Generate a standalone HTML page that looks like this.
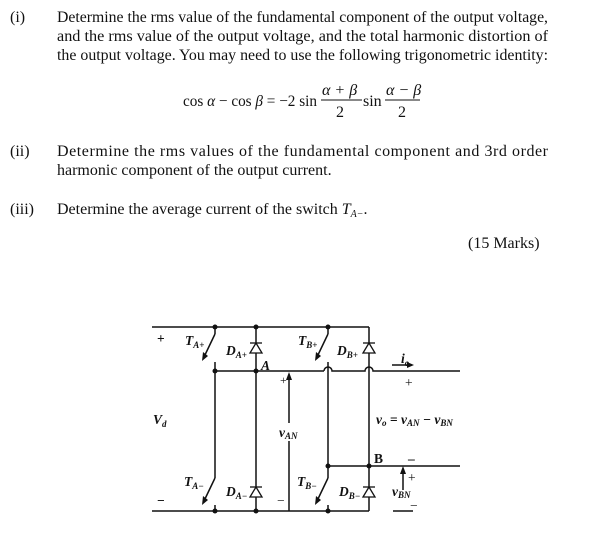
<!DOCTYPE html>
<html><head><style>body{margin:0;background:#fff}svg{display:block}text{font-family:"Liberation Serif",serif;fill:#111}</style></head><body>
<svg width="604" height="541" viewBox="0 0 604 541" xmlns="http://www.w3.org/2000/svg">
<g font-size="16">
<text x="10" y="22">(i)</text>
<text x="57" y="22" textLength="491" lengthAdjust="spacingAndGlyphs">Determine the rms value of the fundamental component of the output voltage,</text>
<text x="57" y="41" textLength="491" lengthAdjust="spacingAndGlyphs">and the rms value of the output voltage, and the total harmonic distortion of</text>
<text x="57" y="60" textLength="491" lengthAdjust="spacingAndGlyphs">the output voltage. You may need to use the following trigonometric identity:</text>
<text x="10" y="156">(ii)</text>
<text x="57" y="156" textLength="491" lengthAdjust="spacing">Determine the rms values of the fundamental component and 3rd order</text>
<text x="57" y="175">harmonic component of the output current.</text>
<text x="10" y="214">(iii)</text>
<text x="57" y="214">Determine the average current of the switch <tspan font-style="italic">T</tspan><tspan font-style="italic" font-size="10" dy="3">A−</tspan><tspan dy="-3">.</tspan></text>
<text x="468" y="248">(15 Marks)</text>
</g>
<g font-size="16">
<text x="183" y="106" textLength="134" lengthAdjust="spacingAndGlyphs">cos <tspan font-style="italic">α</tspan> − cos <tspan font-style="italic">β</tspan> = −2 sin</text>
<text x="322" y="95" font-style="italic">α + β</text>
<line x1="321" y1="100" x2="362" y2="100" stroke="#111" stroke-width="1"/>
<text x="336" y="117">2</text>
<text x="363" y="106">sin</text>
<text x="386" y="95" font-style="italic">α − β</text>
<line x1="385" y1="100" x2="420" y2="100" stroke="#111" stroke-width="1"/>
<text x="398" y="117">2</text>
</g>
<g stroke="#111" stroke-width="1.5" fill="none">
<line x1="152" y1="327" x2="369" y2="327"/>
<line x1="152" y1="511" x2="369" y2="511"/>
<line x1="215" y1="371" x2="256" y2="371"/>
<line x1="256" y1="371" x2="324" y2="371"/>
<path d="M324 371 a4 4 0 0 1 8 0 L365 371 a4 4 0 0 1 8 0 L460 371"/>
<line x1="328" y1="466" x2="460" y2="466"/>
<line x1="215" y1="327" x2="215" y2="334"/>
<line x1="215" y1="334" x2="204" y2="357"/>
<line x1="215" y1="362" x2="215" y2="478"/>
<line x1="215" y1="478" x2="204" y2="501"/>
<line x1="215" y1="505" x2="215" y2="511"/>
<line x1="328" y1="327" x2="328" y2="334"/>
<line x1="328" y1="334" x2="317" y2="357"/>
<line x1="328" y1="362" x2="328" y2="478"/>
<line x1="328" y1="478" x2="317" y2="501"/>
<line x1="328" y1="505" x2="328" y2="511"/>
<line x1="256" y1="327" x2="256" y2="511"/>
<line x1="369" y1="327" x2="369" y2="511"/>
<line x1="289" y1="511" x2="289" y2="378"/>
<line x1="403" y1="490" x2="403" y2="471"/>
<line x1="393" y1="511" x2="413" y2="511"/>
<line x1="392" y1="365" x2="412" y2="365"/>
</g>
<rect x="277" y="423" width="26" height="18" fill="#fff"/>
<g fill="#111">
<polygon points="202,361 203,352 208,356"/><polygon points="202,505 203,496 208,500"/>
<polygon points="315,361 316,352 321,356"/><polygon points="315,505 316,496 321,500"/>
<polygon points="289,372 286,380 292,380"/><polygon points="403,466 400,474 406,474"/>
<polygon points="414,365 407,362 407,368"/>
<g stroke="#111" stroke-width="1.3"><line x1="250" y1="343" x2="262" y2="343"/><line x1="250" y1="487" x2="262" y2="487"/><line x1="363" y1="343" x2="375" y2="343"/><line x1="363" y1="487" x2="375" y2="487"/></g>
<g fill="#fff" stroke="#111" stroke-width="1.3"><polygon points="256,343 250,353 262,353"/><polygon points="256,487 250,497 262,497"/><polygon points="369,343 363,353 375,353"/><polygon points="369,487 363,497 375,497"/></g>
<circle cx="215" cy="327" r="2.5"/><circle cx="256" cy="327" r="2.5"/><circle cx="328" cy="327" r="2.5"/>
<circle cx="215" cy="371" r="2.5"/><circle cx="256" cy="371" r="2.5"/>
<circle cx="328" cy="466" r="2.5"/><circle cx="369" cy="466" r="2.5"/>
<circle cx="215" cy="511" r="2.5"/><circle cx="256" cy="511" r="2.5"/><circle cx="328" cy="511" r="2.5"/>
</g>
<g font-size="13.5" font-weight="bold" font-style="italic">
<text x="157" y="343" font-style="normal">+</text>
<text x="157" y="505" font-style="normal">−</text>
<text x="185" y="345">T<tspan font-size="9" dy="3">A+</tspan></text>
<text x="226" y="355">D<tspan font-size="9" dy="3">A+</tspan></text>
<text x="261" y="370">A</text>
<text x="298" y="345">T<tspan font-size="9" dy="3">B+</tspan></text>
<text x="337" y="355">D<tspan font-size="9" dy="3">B+</tspan></text>
<text x="401" y="363">i<tspan font-size="9" dy="3">o</tspan></text>
<text x="405" y="387" font-style="normal" font-weight="normal">+</text>
<text x="280" y="384" font-style="normal" font-weight="normal" font-size="12">+</text>
<text x="153" y="424">V<tspan font-size="9" dy="3">d</tspan></text>
<text x="279" y="437">v<tspan font-size="9" dy="2">AN</tspan></text>
<text x="376" y="424">v<tspan font-size="9" dy="2">o</tspan><tspan dy="-2"> = v</tspan><tspan font-size="9" dy="2">AN</tspan><tspan dy="-2"> − v</tspan><tspan font-size="9" dy="2">BN</tspan></text>
<text x="374" y="463" font-style="normal">B</text>
<text x="408" y="463" font-style="normal">–</text>
<text x="184" y="486">T<tspan font-size="9" dy="3">A−</tspan></text>
<text x="226" y="496">D<tspan font-size="9" dy="3">A−</tspan></text>
<text x="297" y="486">T<tspan font-size="9" dy="3">B−</tspan></text>
<text x="339" y="496">D<tspan font-size="9" dy="3">B−</tspan></text>
<text x="277" y="505" font-style="normal" font-weight="normal">−</text>
<text x="408" y="482" font-style="normal" font-weight="normal">+</text>
<text x="392" y="496">v<tspan font-size="9" dy="2">BN</tspan></text>
<text x="410" y="510" font-style="normal" font-weight="normal">−</text>
</g>
</svg>
</body></html>
